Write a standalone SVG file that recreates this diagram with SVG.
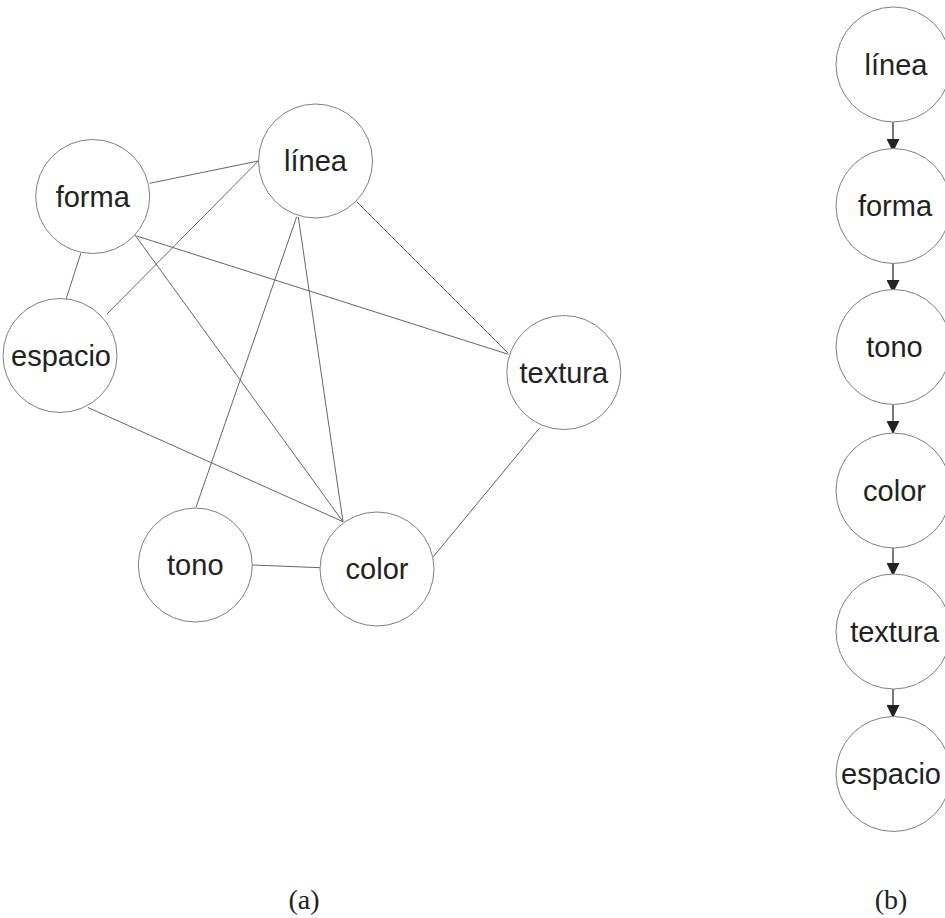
<svg xmlns="http://www.w3.org/2000/svg" width="945" height="918" viewBox="0 0 945 918">
  <defs>
    <style>
      .node circle { fill: #ffffff; stroke: #808080; stroke-width: 1; }
      .node text { font-family: "Liberation Sans", Arial, sans-serif; font-size: 29px; fill: #222222; text-anchor: middle; }
      .edges line { stroke: #555555; stroke-width: 0.9; fill: none; }
      .chain line { stroke: #333333; stroke-width: 1.3; fill: none; }
      .caption { font-family: "Liberation Serif", "Times New Roman", serif; font-size: 28px; fill: #222222; text-anchor: middle; }
    </style>
    <marker id="arrow" viewBox="0 0 13 13" refX="13" refY="6.5" markerWidth="13" markerHeight="13" markerUnits="userSpaceOnUse" orient="auto">
      <path d="M0,0 L13,6.5 L0,13 Z" fill="#222222"/>
    </marker>
  </defs>
  <rect width="945" height="918" fill="#ffffff"/>

  <!-- (a) undirected graph: connectors -->
  <g id="edges-a" class="edges">
    <line x1="149.7" y1="183.3" x2="258.3" y2="161"/>
    <line x1="81" y1="252.7" x2="66" y2="299.3"/>
    <line x1="106.7" y1="314.3" x2="258.3" y2="161"/>
    <line x1="135" y1="235" x2="343" y2="521.7"/>
    <line x1="136.7" y1="236" x2="508.3" y2="354.3"/>
    <line x1="296.7" y1="216.7" x2="196" y2="507.3"/>
    <line x1="298.3" y1="217" x2="343" y2="521.7"/>
    <line x1="356.7" y1="201.7" x2="508.3" y2="353.3"/>
    <line x1="88" y1="407.5" x2="343" y2="521.7"/>
    <line x1="252.3" y1="565" x2="320" y2="567.7"/>
    <line x1="539.3" y1="428.3" x2="433.3" y2="556.7"/>
  </g>

  <!-- (a) nodes -->
  <g id="a-forma" class="node"><circle cx="92.7" cy="196.5" r="57"/><text x="92.7" y="206.5">forma</text></g>
  <g id="a-linea" class="node"><circle cx="315.5" cy="161" r="57"/><text x="315.5" y="171">línea</text></g>
  <g id="a-espacio" class="node"><circle cx="60" cy="355.5" r="57"/><text x="61" y="365.5">espacio</text></g>
  <g id="a-textura" class="node"><circle cx="563.8" cy="372.5" r="57"/><text x="563.8" y="382.5">textura</text></g>
  <g id="a-tono" class="node"><circle cx="195.3" cy="565" r="57"/><text x="195.3" y="575">tono</text></g>
  <g id="a-color" class="node"><circle cx="377" cy="569" r="57"/><text x="377" y="579">color</text></g>

  <!-- (b) ordered chain: connectors -->
  <g id="edges-b" class="chain">
    <line x1="893" y1="122" x2="893" y2="152" marker-end="url(#arrow)"/>
    <line x1="893" y1="263" x2="893" y2="293" marker-end="url(#arrow)"/>
    <line x1="893" y1="404" x2="893" y2="434" marker-end="url(#arrow)"/>
    <line x1="893" y1="546" x2="893" y2="576" marker-end="url(#arrow)"/>
    <line x1="893" y1="688" x2="893" y2="718" marker-end="url(#arrow)"/>
  </g>

  <!-- (b) nodes -->
  <g id="b-linea" class="node"><circle cx="893.5" cy="64.5" r="57.5"/><text x="896" y="74.5">línea</text></g>
  <g id="b-forma" class="node"><circle cx="893.5" cy="206" r="57.5"/><text x="895" y="216">forma</text></g>
  <g id="b-tono" class="node"><circle cx="893.5" cy="347" r="57.5"/><text x="894.5" y="357">tono</text></g>
  <g id="b-color" class="node"><circle cx="893.5" cy="490.5" r="57.5"/><text x="894.5" y="500.5">color</text></g>
  <g id="b-textura" class="node"><circle cx="893.5" cy="631.5" r="57.5"/><text x="894.5" y="641.5">textura</text></g>
  <g id="b-espacio" class="node"><circle cx="893.5" cy="774" r="57.5"/><text x="891" y="784">espacio</text></g>

  <!-- captions -->
  <text class="caption" x="304" y="909">(a)</text>
  <text class="caption" x="891" y="909">(b)</text>
</svg>
